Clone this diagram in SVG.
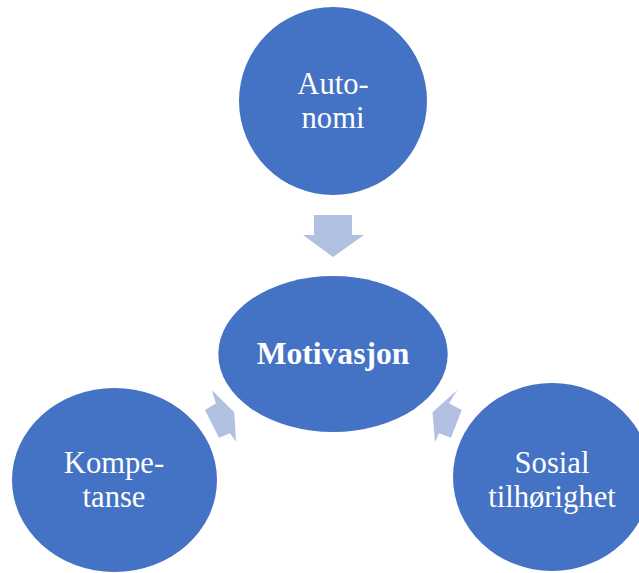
<svg xmlns="http://www.w3.org/2000/svg" width="639" height="573" viewBox="0 0 639 573">
  <style>
    .node { fill: #4472C4; }
    .arrow { fill: #B1BFE1; }
    .label { font-family: "Liberation Serif", "Times New Roman", serif; font-size: 30.6px; fill: #FFFFFF; text-anchor: middle; }
    .bold { font-weight: bold; font-size: 31.6px; }
  </style>
  <rect width="639" height="573" fill="#FFFFFF"/>

  <!-- connectors: block arrows converging on the centre -->
  <g id="connectors">
    <polygon class="arrow" points="314,215 352,215 352,235 364,235 333,257 303,235 314,235"/>
    <polygon class="arrow" points="211.7,390 234.3,412.3 236,441.7 230,433.3 219,437.7 205,410 216,403.3"/>
    <polygon class="arrow" points="457.3,390 449,403.3 461.7,410 451,437.7 439,433.3 435,442.3 432.5,412.3"/>
  </g>

  <g id="node-autonomi">
    <circle class="node" cx="333" cy="101" r="94"/>
    <text class="label" x="333" y="94">Auto-</text>
    <text class="label" x="333" y="128">nomi</text>
  </g>

  <g id="node-motivasjon">
    <ellipse class="node" cx="333" cy="354" rx="114.7" ry="78"/>
    <text class="label bold" x="333" y="364">Motivasjon</text>
  </g>

  <g id="node-kompetanse">
    <ellipse class="node" cx="114.5" cy="480" rx="102.5" ry="92"/>
    <text class="label" x="114" y="473">Kompe-</text>
    <text class="label" x="114" y="507">tanse</text>
  </g>

  <g id="node-sosial">
    <ellipse class="node" cx="552" cy="477" rx="99" ry="94"/>
    <text class="label" x="552" y="473">Sosial</text>
    <text class="label" x="552" y="507">tilhørighet</text>
  </g>
</svg>
